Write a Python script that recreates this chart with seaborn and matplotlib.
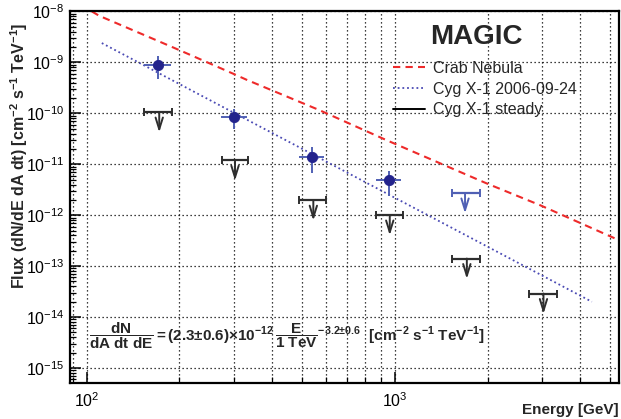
import matplotlib
matplotlib.use("Agg")
import matplotlib.pyplot as plt
import seaborn as sns
from matplotlib.lines import Line2D
from matplotlib.ticker import FixedLocator, LogLocator, NullFormatter

# Crab Nebula spectrum
crab_energy = [104, 110, 169, 201, 299, 330, 565, 942, 1991, 2965, 5190]
crab_flux = [1.0e-8, 8.2e-9, 2.7e-9, 1.72e-9, 6.0e-10, 4.58e-10, 1.18e-10,
             2.96e-11, 4.19e-12, 1.57e-12, 3.49e-13]

# power-law fit to the 2006-09-24 flare
fit_energy = [112, 4360]
fit_flux = [2.4e-9, 2.0e-14]

# Cyg X-1 2006-09-24 measured points
day_energy = [171, 301, 539, 957]
day_e_lo = [153, 272, 487, 866]
day_e_hi = [188, 332, 591, 1051]
day_flux = [9.0e-10, 8.5e-11, 1.42e-11, 4.85e-12]
day_flux_err = [4.2e-10, 3.5e-11, 7.3e-12, 2.5e-12]

# Cyg X-1 2006-09-24 upper limit
day_ul_energy = [1690]
day_ul_e_lo = [1531]
day_ul_e_hi = [1883]
day_ul_flux = [2.73e-12]

# Cyg X-1 steady upper limits
steady_energy = [172, 303, 544, 963, 1713, 3037]
steady_e_lo = [154, 274, 489, 869, 1538, 2735]
steady_e_hi = [189, 335, 597, 1067, 1892, 3357]
steady_flux = [1.06e-10, 1.2e-11, 1.97e-12, 1.01e-12, 1.41e-13, 2.9e-14]

x_major = [1e2, 1e3]
y_major = [1e-15, 1e-14, 1e-13, 1e-12, 1e-11, 1e-10, 1e-9, 1e-8]

RED = "#ee2a2a"
BLUE_LINE = "#4a4ab4"
BLUE_PT = "#23238c"
BLUE_ERR = "#5060b4"
BLACK_UL = "#2e2e2e"

sns.set_theme(style="ticks")
plt.rcParams["font.family"] = ["Liberation Sans", "DejaVu Sans"]
plt.rcParams["mathtext.fontset"] = "custom"
plt.rcParams["mathtext.rm"] = "Liberation Sans"
plt.rcParams["mathtext.bf"] = "Liberation Sans:bold"
plt.rcParams["mathtext.it"] = "Liberation Sans:italic"

fig = plt.figure(figsize=(6.21, 4.19), dpi=100)
ax = fig.add_axes([70 / 621, 36 / 419, 549 / 621, 371.5 / 419])
ax.set_xscale("log")
ax.set_yscale("log")
ax.set_xlim(88.3, 5340)
ax.set_ylim(10 ** -15.294, 1e-8)

sns.lineplot(x=crab_energy, y=crab_flux, ax=ax, color=RED, lw=1.5,
             sort=False, estimator=None)
ax.lines[-1].set_dashes([3.5, 2.5])
sns.lineplot(x=fit_energy, y=fit_flux, ax=ax, color=BLUE_LINE, lw=1.3,
             sort=False, estimator=None)
ax.lines[-1].set_dashes([1, 1.6])

# measured points
xerr = [[e - lo for e, lo in zip(day_energy, day_e_lo)],
        [hi - e for e, hi in zip(day_energy, day_e_hi)]]
ax.errorbar(day_energy, day_flux, xerr=xerr, yerr=day_flux_err, fmt="none",
            ecolor=BLUE_ERR, elinewidth=1.4, capsize=0, zorder=4)
sns.scatterplot(x=day_energy, y=day_flux, ax=ax, color=BLUE_PT, s=55,
                edgecolor=BLUE_PT, zorder=5)


def upper_limits(energy, lo, hi, flux, color):
    xe = [[e - l for e, l in zip(energy, lo)], [h - e for e, h in zip(energy, hi)]]
    ax.errorbar(energy, flux, xerr=xe, fmt="none", ecolor=color,
                elinewidth=1.6, capsize=3, capthick=1.4, zorder=4)
    for e, f in zip(energy, flux):
        ax.annotate("", xy=(e, f / 10 ** 0.4), xytext=(e, f),
                    arrowprops=dict(arrowstyle="->,head_length=0.7,head_width=0.22",
                                    color=color, lw=1.4, shrinkA=0, shrinkB=0),
                    zorder=4)


upper_limits(day_ul_energy, day_ul_e_lo, day_ul_e_hi, day_ul_flux, BLUE_ERR)
upper_limits(steady_energy, steady_e_lo, steady_e_hi, steady_flux, BLACK_UL)

# axes styling (ROOT like)
ax.xaxis.set_major_locator(FixedLocator(x_major))
ax.xaxis.set_minor_locator(LogLocator(base=10, subs=range(2, 10), numticks=20))
ax.xaxis.set_minor_formatter(NullFormatter())
ax.yaxis.set_major_locator(FixedLocator(y_major))
ax.yaxis.set_minor_locator(LogLocator(base=10, subs=range(2, 10), numticks=40))
ax.yaxis.set_minor_formatter(NullFormatter())
ax.tick_params(which="both", direction="in", top=False, right=False,
               colors="black", labelsize=11.5)
ax.tick_params(which="major", length=8, width=1.1)
ax.tick_params(axis="x", which="major", pad=6)
ax.tick_params(axis="y", which="major", pad=4)
ax.tick_params(which="minor", length=4, width=0.9)
ax.grid(True, axis="x", which="both", ls=(0, (1, 2.2)), color="black", lw=0.9)
ax.grid(True, axis="y", which="major", ls=(0, (1, 2.2)), color="black", lw=0.9)
for sp in ax.spines.values():
    sp.set_linewidth(1.6)
    sp.set_color("black")

ax.set_ylabel(r"Flux (dN/dE dA dt) [cm$^{\mathbf{-2}}$ s$^{\mathbf{-1}}$ TeV$^{\mathbf{-1}}$]",
              fontsize=11.5, fontweight="bold", va="center")
ax.yaxis.set_label_coords(-0.093, 0.612)
ax.set_xlabel("Energy [GeV]", fontsize=11, fontweight="bold", ha="right", va="center")
ax.xaxis.set_label_coords(1.0, -0.072)

ax.text(0.741, 0.932, "MAGIC", transform=ax.transAxes, ha="center", va="center",
        fontsize=20, fontweight="bold")

handles = [
    Line2D([], [], color=RED, lw=1.5, dashes=[3.5, 2.5]),
    Line2D([], [], color=BLUE_LINE, lw=1.3, dashes=[1, 1.6]),
    Line2D([], [], color="black", lw=1.4),
]
labels = ["Crab Nebula", "Cyg X-1 2006-09-24", "Cyg X-1 steady"]
ax.legend(handles, labels, loc="upper left", frameon=False, fontsize=11.5,
          bbox_to_anchor=(393 / 621, 1 - 61 / 419), bbox_transform=fig.transFigure,
          borderpad=0, borderaxespad=0, handlelength=2.0, handletextpad=0.5,
          labelspacing=0.35)

formula = (r"$\mathbf{\dfrac{dN}{dA\ dt\ dE}=(2.3±0.6)×10^{-12}}"
           r"\,\mathbf{\dfrac{E}{1\ TeV}^{-3.2±0.6}}\ \ \mathbf{[cm^{-2}\ s^{-1}\ TeV^{-1}]}$")
ax.text(0.0346, 0.1267, formula, transform=ax.transAxes, ha="left", va="center",
        fontsize=11)

fig.savefig("out.png", dpi=100)
